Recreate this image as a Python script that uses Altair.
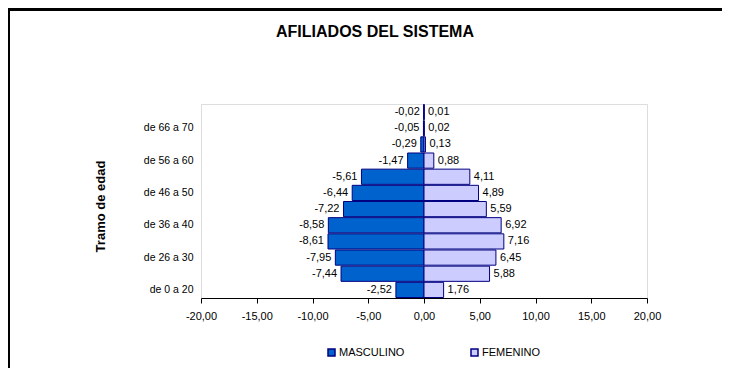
import altair as alt
import pandas as pd

tramos = ["de 0 a 20", "de 21 a 25", "de 26 a 30", "de 31 a 35", "de 36 a 40", "de 41 a 45",
          "de 46 a 50", "de 51 a 55", "de 56 a 60", "de 61 a 65", "de 66 a 70", "de 71 y más"]
masculino = [-2.52, -7.44, -7.95, -8.61, -8.58, -7.22, -6.44, -5.61, -1.47, -0.29, -0.05, -0.02]
femenino = [1.76, 5.88, 6.45, 7.16, 6.92, 5.59, 4.89, 4.11, 0.88, 0.13, 0.02, 0.01]
series = ["MASCULINO", "FEMENINO"]
x_ticks = [-20, -15, -10, -5, 0, 5, 10, 15, 20]
shown_labels = tramos[::2]
titulo = "AFILIADOS DEL SISTEMA"

rows = []
for t, m, f in zip(tramos, masculino, femenino):
    rows.append({"tramo": t, "sexo": "MASCULINO", "valor": m})
    rows.append({"tramo": t, "sexo": "FEMENINO", "valor": f})
df = pd.DataFrame(rows)

W, H = 446, 194
FONT = "Liberation Sans"

y_enc = alt.Y("tramo:N", sort=list(reversed(tramos)),
              scale=alt.Scale(paddingInner=0.06, paddingOuter=0.03),
              axis=alt.Axis(values=shown_labels, title="Tramo de edad", ticks=False, domain=False,
                            labelPadding=8, labelFontSize=10.5, labelFont=FONT, labelColor="black",
                            titleFont=FONT, titleFontSize=13, titleFontWeight="bold", titleColor="black",
                            titleX=-101, titleY=H / 2 + 5, titleAngle=-90, titleAlign="center",
                            titleBaseline="middle"))

x_enc = alt.X("valor:Q", scale=alt.Scale(domain=[-20, 20], nice=False),
              axis=alt.Axis(values=x_ticks, title=None, grid=False, tickSize=5, tickColor="black",
                            domainColor="black", labelFont=FONT, labelFontSize=11, labelColor="black",
                            labelPadding=7, labelFlush=False,
                            labelExpr="replace(replace(format(datum.value, '.2f'), '.', ','), '\u2212', '-')"))

base = alt.Chart(df)

bars = base.mark_bar(stroke="#000080", strokeWidth=1).encode(
    x=x_enc,
    y=y_enc,
    color=alt.Color("sexo:N", scale=alt.Scale(domain=series, range=["#0062CC", "#CCCCFF"]),
                    legend=alt.Legend(title=None, orient="none", legendX=125, legendY=243,
                                      direction="horizontal", columns=2, columnPadding=63,
                                      symbolType="square", symbolSize=49, symbolStrokeColor="#000080",
                                      symbolStrokeWidth=1.5, labelFont=FONT, labelFontSize=11,
                                      labelColor="black", labelOffset=2)),
)

lbl = "replace(replace(format(datum.valor, '.2f'), '.', ','), '\u2212', '-')"

text_m = base.transform_filter("datum.sexo == 'MASCULINO'").transform_calculate(lab=lbl).mark_text(
    align="right", baseline="middle", dx=-4, font=FONT, fontSize=11, color="black"
).encode(x="valor:Q", y=alt.Y("tramo:N", sort=list(reversed(tramos))), text="lab:N")

text_f = base.transform_filter("datum.sexo == 'FEMENINO'").transform_calculate(lab=lbl).mark_text(
    align="left", baseline="middle", dx=4, font=FONT, fontSize=11, color="black"
).encode(x="valor:Q", y=alt.Y("tramo:N", sort=list(reversed(tramos))), text="lab:N")

title_mark = alt.Chart(pd.DataFrame({"t": [titulo]})).mark_text(
    font=FONT, fontSize=16, fontWeight="bold", color="black", align="center", baseline="middle"
).encode(text="t:N", x=alt.value(174), y=alt.value(-72))

frame_left = alt.Chart(df).mark_rule(color="black", strokeWidth=1.5).encode(
    x=alt.value(-192.5), y=alt.value(-95), y2=alt.value(300))
frame_top = alt.Chart(df).mark_rule(color="black", strokeWidth=1.5).encode(
    x=alt.value(-193), x2=alt.value(560), y=alt.value(-94.5))

chart = alt.layer(bars, text_m, text_f, title_mark, frame_left, frame_top).properties(
    width=W, height=H,
    autosize=alt.AutoSizeParams(type="none"),
    padding={"left": 193, "top": 96, "right": 75, "bottom": 70},
).configure_view(stroke="black", strokeWidth=1).configure(background="white")

chart.save("out.html", embed_options={"renderer": "svg", "actions": False})
